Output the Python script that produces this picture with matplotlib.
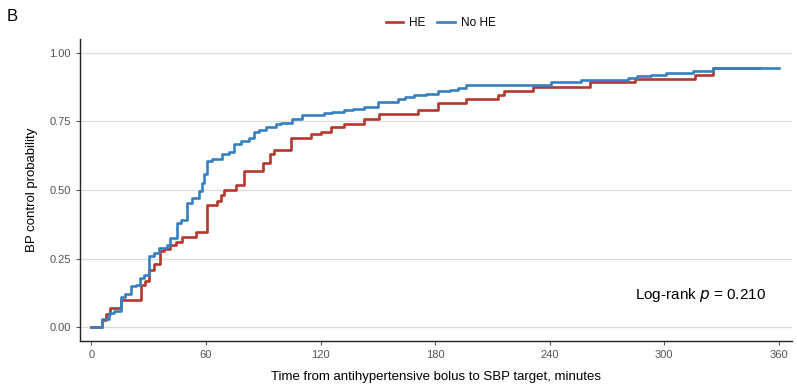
import matplotlib.pyplot as plt

# Kaplan-Meier type cumulative curves (time in minutes, probability after step)
he_time = [0, 5.6, 7.5, 9.6, 15.6, 25.7, 28.3, 30.1, 32.7, 35.8, 37.9, 41.4, 44.1,
           47.6, 54.6, 60.3, 65.9, 67.7, 69.4, 75.6, 79.9, 90.1, 93.6, 95.7, 104.4,
           114.9, 120.1, 125.4, 132.4, 142.9, 150.7, 170.9, 181.4, 196.2, 212.9,
           216.0, 231.2, 261.0, 285.0, 316.0, 325.7, 350.0]
he_prob = [0, 0.027, 0.05, 0.07, 0.10, 0.155, 0.17, 0.21, 0.23, 0.277, 0.285, 0.30,
           0.31, 0.33, 0.347, 0.445, 0.46, 0.48, 0.50, 0.52, 0.57, 0.60, 0.63, 0.647,
           0.688, 0.704, 0.713, 0.729, 0.741, 0.759, 0.777, 0.79, 0.817, 0.833, 0.845,
           0.862, 0.876, 0.892, 0.904, 0.92, 0.946, 0.946]

nohe_time = [0, 5.6, 9.1, 11.7, 15.6, 17.8, 20.5, 23.1, 25.4, 27.5, 30.4, 32.7, 35.3,
             39.7, 41.4, 45.0, 46.7, 50.2, 52.8, 56.3, 58.1, 59.0, 60.3, 63.3, 68.6,
             72.0, 74.7, 78.2, 82.5, 85.2, 88.0, 91.3, 96.5, 99.2, 105.3, 110.5, 121.9,
             126.0, 132.4, 137.0, 142.9, 149.9, 160.4, 164.0, 169.1, 175.0, 181.4, 188.0,
             192.0, 196.2, 240.8, 256.6, 261.0, 281.0, 286.0, 293.0, 301.0, 315.0,
             325.7, 360.0]
nohe_prob = [0, 0.029, 0.053, 0.06, 0.112, 0.12, 0.149, 0.155, 0.18, 0.19, 0.259, 0.27,
             0.29, 0.30, 0.326, 0.381, 0.39, 0.454, 0.47, 0.497, 0.527, 0.557, 0.607,
             0.613, 0.631, 0.64, 0.668, 0.68, 0.69, 0.71, 0.72, 0.731, 0.74, 0.745,
             0.757, 0.774, 0.78, 0.785, 0.79, 0.795, 0.802, 0.822, 0.833, 0.838, 0.845,
             0.85, 0.86, 0.865, 0.87, 0.881, 0.892, 0.90, 0.902, 0.909, 0.914, 0.918,
             0.925, 0.932, 0.943, 0.943]

x_ticks = [0, 60, 120, 180, 240, 300, 360]
y_ticks = [0, 0.25, 0.5, 0.75, 1.0]
y_ticklabels = ["0.00", "0.25", "0.50", "0.75", "1.00"]

plt.rcParams['font.family'] = ['Liberation Sans', 'DejaVu Sans']

fig = plt.figure(figsize=(7.97, 3.85), dpi=100)
ax = fig.add_axes([0.1004, 0.1143, 0.8933, 0.7844])

red = "#B5372D"
blue = "#3580C3"

ax.step(he_time, he_prob, where="post", color=red, lw=1.9, label="HE", zorder=3)
ax.step(nohe_time, nohe_prob, where="post", color=blue, lw=1.9, label="No HE", zorder=3)

ax.set_xlim(-6, 367)
ax.set_ylim(-0.05, 1.05)
ax.set_xticks(x_ticks)
ax.set_yticks(y_ticks)
ax.set_yticklabels(y_ticklabels)
ax.grid(axis="y", color="#dcdcdc", lw=0.9)
ax.set_axisbelow(True)

for s in ["top", "right"]:
    ax.spines[s].set_visible(False)
for s in ["left", "bottom"]:
    ax.spines[s].set_color("#222222")
    ax.spines[s].set_linewidth(1.0)
ax.tick_params(axis="both", colors="#555555", labelsize=8, length=3, width=0.8)

ax.set_xlabel("Time from antihypertensive bolus to SBP target, minutes",
              fontsize=9.5, labelpad=8)
ax.set_ylabel("BP control probability", fontsize=9.5, labelpad=8)

ax.text(0.963, 0.153, r"Log-rank $\it{p}$ = 0.210", transform=ax.transAxes,
        ha="right", va="center", fontsize=11)

fig.text(0.008, 0.957, "B", fontsize=12, ha="left", va="center")

fig.legend(loc="center", bbox_to_anchor=(0.553, 0.94), ncol=2, frameon=False,
           fontsize=8.5, handlelength=1.5, handletextpad=0.5, columnspacing=1.0)

fig.savefig("out.png", dpi=100)
